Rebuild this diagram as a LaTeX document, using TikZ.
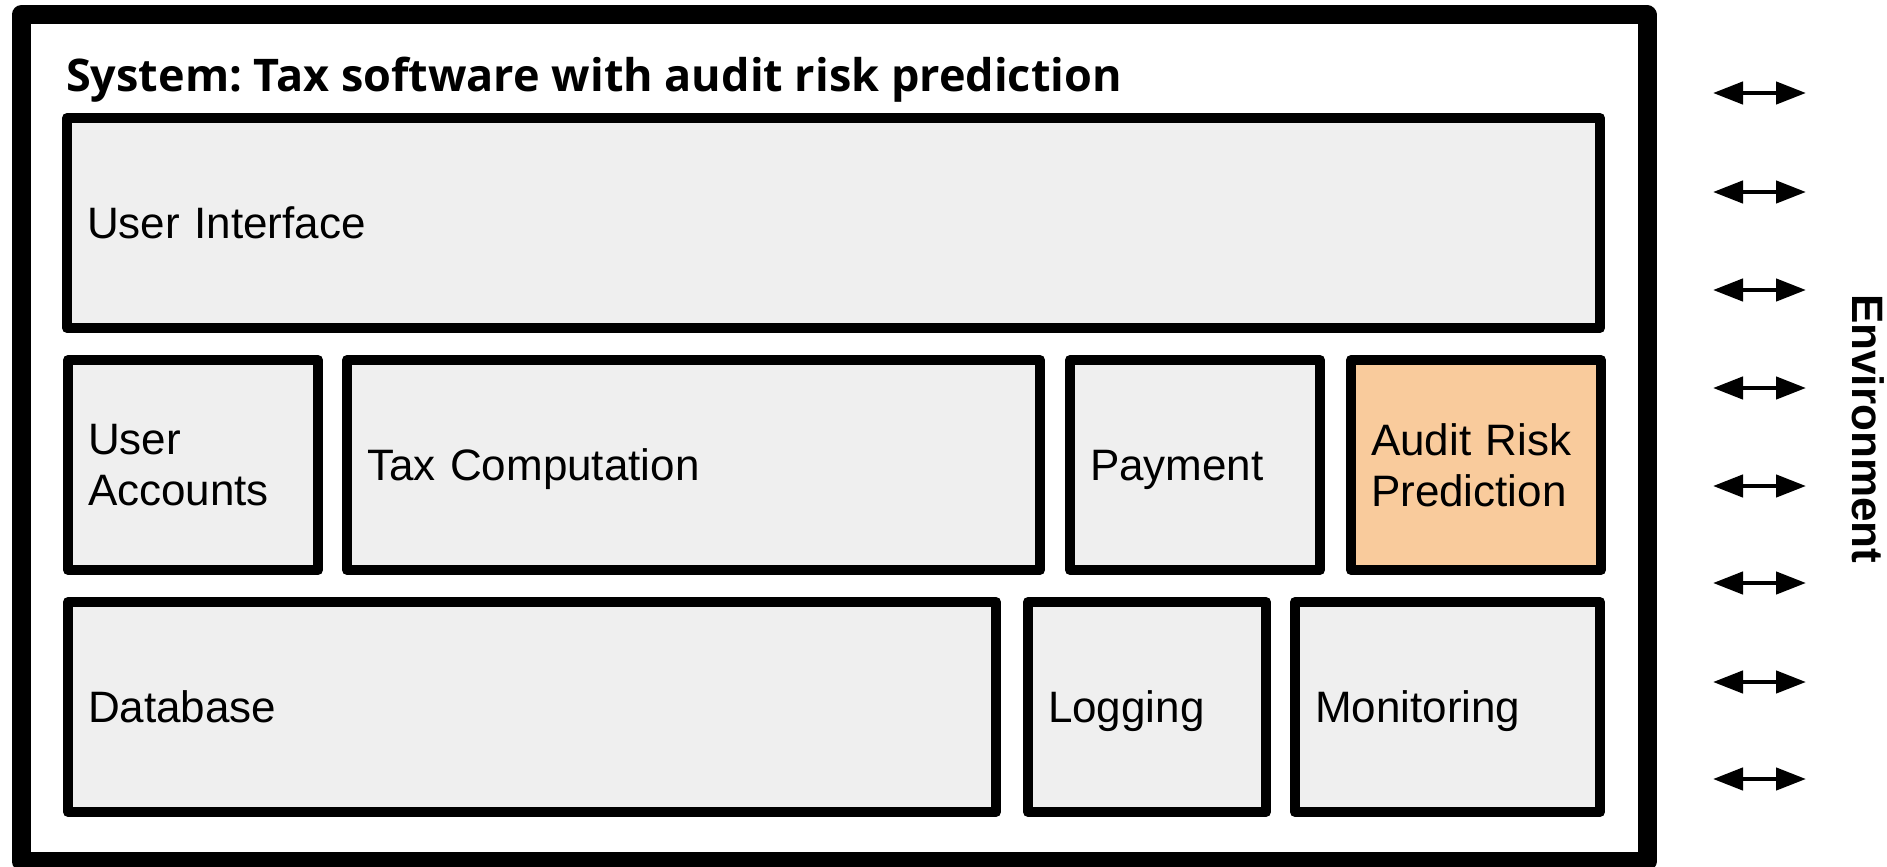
\documentclass[tikz,border=0pt]{standalone}
\usepackage{fontspec}
\usetikzlibrary{arrows.meta}
\newfontfamily\labelfont{Liberation Sans}
\newfontfamily\headfont{Open Sans}
\definecolor{layergray}{HTML}{EFEFEF}
\definecolor{riskpeach}{HTML}{F9CB9C}
\frenchspacing

% one component box: name, x1, y1, x2, y2, extra style, label
\newcommand\layerbox[7]{%
  \pgfmathsetmacro\lbw{#4-#2}%
  \pgfmathsetmacro\lbh{#5-#3}%
  \pgfmathsetmacro\lbt{#4-#2-40}%
  \node[layer,#6,minimum width=\lbw pt,minimum height=\lbh pt,text width=\lbt pt] (#1) at (#2,#3) {#7};%
}

\begin{document}
\begin{tikzpicture}[x=1pt,y=-1pt,
  frame/.style={draw,line width=19pt,line join=round,rectangle,anchor=north west,outer sep=0pt,inner sep=0pt},
  layer/.style={draw,line width=10pt,line join=round,fill=layergray,rectangle,anchor=north west,
    outer sep=0pt,inner xsep=20pt,inner ysep=0pt,align=left,
    font=\labelfont\fontsize{44pt}{51pt}\selectfont},
  oneline/.style={text depth=0pt},
  highlight/.style={fill=riskpeach},
  biarrow/.style={line width=4.5pt,{Triangle[length=30pt,width=22pt]}-{Triangle[length=30pt,width=22pt]}},
  heading/.style={anchor=base west,inner sep=0pt,font=\headfont\bfseries\fontsize{45pt}{52pt}\selectfont},
  envlabel/.style={anchor=base west,inner sep=0pt,rotate=-90,font=\labelfont\bfseries\fontsize{44pt}{52pt}\selectfont}]
\useasboundingbox (0,0) rectangle (1887,867);

% system boundary
\node[frame,minimum width=1626pt,minimum height=846pt] (system) at (21,15) {};
\node[heading] (title) at (66,92) {System: Tax software with audit risk prediction};

% layers of components
\layerbox{ui}{67}{118}{1600}{328}{oneline}{User Interface}
\layerbox{accounts}{68}{360}{318}{570}{}{User\\Accounts}
\layerbox{taxcomp}{347}{360}{1040}{570}{oneline}{Tax Computation}
\layerbox{payment}{1070}{360}{1320}{570}{oneline}{Payment}
\layerbox{audit}{1351}{360}{1601}{570}{highlight}{Audit Risk\\Prediction}
\layerbox{database}{68}{602}{996}{812}{oneline}{Database}
\layerbox{logging}{1028}{602}{1266}{812}{oneline}{Logging}
\layerbox{monitoring}{1295}{602}{1600}{812}{oneline}{Monitoring}

% exchange with the environment
\foreach \i/\y in {1/93,2/192,3/290,4/388,5/486,6/583,7/682,8/779}{
  \coordinate (in\i) at (1713,\y);
  \coordinate (out\i) at (1806,\y);
  \draw[biarrow] (in\i) -- (out\i);
}
\node[envlabel] (env) at (1852,294) {Environment};
\end{tikzpicture}
\end{document}
